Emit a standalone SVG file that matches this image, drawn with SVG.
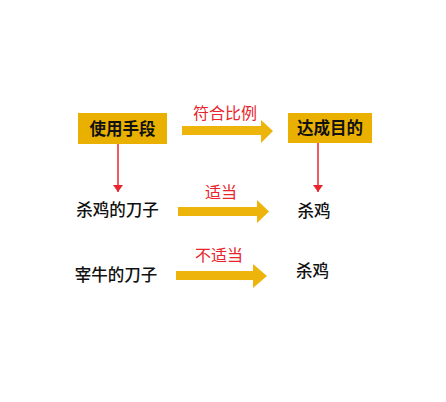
<svg xmlns="http://www.w3.org/2000/svg" width="446" height="402" viewBox="0 0 446 402">
<defs>
<style>
.box{fill:#E9B000}
.arrow{fill:#EDB40C}
.t{font-family:"Noto Sans CJK SC","Noto Sans",sans-serif;font-size:16.5px;font-weight:500;fill:#111}
.tb{font-family:"Noto Sans CJK SC","Noto Sans",sans-serif;font-size:16.5px;font-weight:bold;fill:#111}
.r{font-family:"Noto Sans CJK SC","Noto Sans",sans-serif;font-size:16px;fill:#E8242C}
.rl{stroke:#E8242C;stroke-width:1.5;fill:none}
</style>
<marker id="ah" viewBox="0 0 10 10" refX="10" refY="5" markerWidth="7" markerHeight="10" orient="auto" markerUnits="userSpaceOnUse" preserveAspectRatio="none">
<path d="M0,0 L10,5 L0,10 z" fill="#E8242C"/>
</marker>
</defs>
<rect width="446" height="402" fill="#fff"/>
<g id="connectors">
<path class="arrow" d="M182,126 H261 V120 L273,131 L261,143 V135 H182 z"/>
<path class="arrow" d="M178,207 H257 V200 L269,211.5 L257,223 V216 H178 z"/>
<path class="arrow" d="M176,271 H253 V264 L267,276 L253,288 V280 H176 z"/>
<line class="rl" x1="118" y1="144" x2="118" y2="192" marker-end="url(#ah)"/>
<line class="rl" x1="318" y1="143" x2="318" y2="192" marker-end="url(#ah)"/>
<text class="r" x="225" y="119" text-anchor="middle">符合比例</text>
<text class="r" x="221" y="198" text-anchor="middle">适当</text>
<text class="r" x="219" y="261" text-anchor="middle">不适当</text>
</g>
<g id="node-means">
<rect class="box" x="78" y="113" width="89" height="31"/>
<text class="tb" x="122.5" y="134.5" text-anchor="middle">使用手段</text>
</g>
<g id="node-goal">
<rect class="box" x="288" y="113" width="84" height="30"/>
<text class="tb" x="330" y="134" text-anchor="middle">达成目的</text>
</g>
<g id="node-chicken-knife">
<text class="t" x="117.5" y="216" text-anchor="middle">杀鸡的刀子</text>
</g>
<g id="node-chicken-1">
<text class="t" x="314" y="217" text-anchor="middle">杀鸡</text>
</g>
<g id="node-ox-knife">
<text class="t" x="116" y="281" text-anchor="middle">宰牛的刀子</text>
</g>
<g id="node-chicken-2">
<text class="t" x="312.5" y="277" text-anchor="middle">杀鸡</text>
</g>
</svg>
